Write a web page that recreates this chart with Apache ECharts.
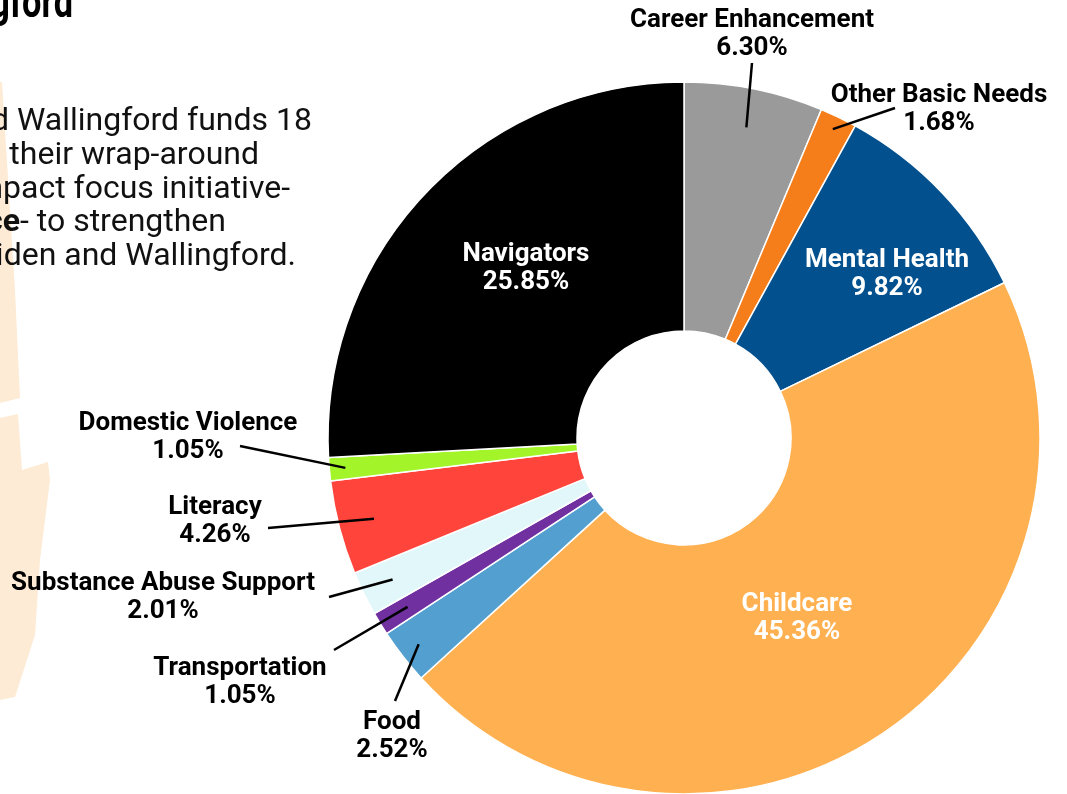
<!DOCTYPE html>
<html>
<head>
<meta charset="utf-8">
<script src="https://cdn.jsdelivr.net/npm/echarts@6/dist/echarts.min.js"></script>
<style>
html,body{margin:0;padding:0;background:#fff;}
#c{width:1067px;height:794px;}
</style>
</head>
<body>
<div id="c"></div>
<script>
// ---- data ----
const categories = ['Career Enhancement','Other Basic Needs','Mental Health','Childcare','Food','Transportation','Substance Abuse Support','Literacy','Domestic Violence','Navigators'];
const shares = [6.30, 1.68, 9.82, 45.36, 2.52, 1.05, 2.01, 4.26, 1.05, 25.85];
const sliceColors = ['#9a9a9a','#f57e1a','#02508e','#ffb152','#529fd0','#7030a0','#e2f7f9','#ff453b','#a3f52a','#000000'];
const insideLabels = ['Mental Health','Childcare','Navigators'];
const titleText = 'Meriden and Wallingford';
const paragraphLines = [
  'and Wallingford funds 18',
  'and their wrap-around',
  'impact focus initiative-',
  '{b|ce}- to strengthen',
  'Meriden and Wallingford.'
];

// ---- layout ----
const CX = 684, CY = 438, R0 = 107, R = 356;
const labelPos = {
  'Career Enhancement': [752, 34],
  'Other Basic Needs': [939, 109],
  'Mental Health': [887, 274],
  'Childcare': [797, 618],
  'Food': [392, 736],
  'Transportation': [240, 682],
  'Substance Abuse Support': [163, 597],
  'Literacy': [215, 521],
  'Domestic Violence': [188, 437],
  'Navigators': [526, 268]
};
const lineEnd = {
  'Career Enhancement': [752, 63],
  'Other Basic Needs': [895, 108],
  'Food': [395, 701],
  'Transportation': [334, 650],
  'Substance Abuse Support': [329, 597],
  'Literacy': [268, 528],
  'Domestic Violence': [240, 446]
};
const lineStartFrac = {
  'Career Enhancement': 0.89,
  'Other Basic Needs': 0.963,
  'Food': 0.944,
  'Transportation': 0.91,
  'Substance Abuse Support': 0.91,
  'Literacy': 0.90,
  'Domestic Violence': 0.955
};
const paraRight = [312, 259, 290, 226, 296];
const paraY = [122, 156, 190, 223, 257];

const total = shares.reduce((a, b) => a + b, 0);
function midAngle(i) {
  let s = 0;
  for (let k = 0; k < i; k++) s += shares[k];
  return (s + shares[i] / 2) / total * Math.PI * 2;
}

const sliceData = categories.map((name, i) => ({
  name: name,
  value: shares[i],
  itemStyle: { color: sliceColors[i] }
}));

const labelData = categories.map((name, i) => {
  const inside = insideLabels.indexOf(name) >= 0;
  return {
    name: name,
    value: shares[i],
    label: {
      position: inside ? 'inside' : 'outside',
      color: inside ? '#ffffff' : '#000000'
    },
    labelLine: { show: !inside }
  };
});

const chart = echarts.init(document.getElementById('c'), null, { renderer: 'canvas' });

const graphics = [
  { type: 'polygon', z: 0, shape: { points: [[0,82],[2,82],[15,290],[20,398],[0,403]] }, style: { fill: '#fdebd5' } },
  { type: 'polygon', z: 0, shape: { points: [[0,418],[18,414],[22,470],[48,462],[50,480],[40,560],[35,635],[15,697],[0,700]] }, style: { fill: '#fdebd5' } },
  { type: 'text', z: 5, x: 73, y: 6, scaleX: 0.78, scaleY: 1,
    style: { text: titleText, x: 0, y: 0, font: 'bold 44px Roboto', fill: '#000', align: 'right', verticalAlign: 'middle', textAlign: 'right', textVerticalAlign: 'middle' } }
];
paragraphLines.forEach((t, i) => {
  graphics.push({
    type: 'text', z: 5,
    style: {
      text: t, x: paraRight[i], y: paraY[i],
      font: '32px Roboto', fill: '#111',
      align: 'right', verticalAlign: 'middle', textAlign: 'right', textVerticalAlign: 'middle',
      rich: { b: { fontWeight: 'bold', fontSize: 32, fontFamily: 'Roboto', fill: '#111' } }
    }
  });
});

chart.setOption({
  animation: false,
  backgroundColor: '#ffffff',
  graphic: graphics,
  series: [{
    type: 'pie',
    z: 2,
    center: [CX, CY],
    radius: [R0, R],
    startAngle: 90,
    clockwise: true,
    silent: true,
    emphasis: { disabled: true },
    itemStyle: { borderColor: '#ffffff', borderWidth: 1.5 },
    label: { show: false },
    labelLine: { show: false },
    data: sliceData
  }, {
    type: 'pie',
    z: 4,
    center: [CX, CY],
    radius: [R0, R],
    startAngle: 90,
    clockwise: true,
    silent: true,
    avoidLabelOverlap: false,
    emphasis: { disabled: true },
    itemStyle: { color: 'rgba(0,0,0,0)', borderWidth: 0 },
    label: {
      show: true,
      fontFamily: 'Roboto',
      fontWeight: 'bold',
      fontSize: 26,
      lineHeight: 28,
      align: 'center',
      formatter: p => p.name + '\n' + p.value.toFixed(2) + '%'
    },
    labelLine: {
      show: true,
      length: 20,
      length2: 0,
      lineStyle: { color: '#000000', width: 2.5 }
    },
    labelLayout: function (params) {
      const name = categories[params.dataIndex];
      const pos = labelPos[name];
      const res = { x: pos[0], y: pos[1], align: 'center', verticalAlign: 'middle' };
      if (lineEnd[name]) {
        const a = midAngle(params.dataIndex);
        const r = R * lineStartFrac[name];
        const sx = CX + r * Math.sin(a);
        const sy = CY - r * Math.cos(a);
        const e = lineEnd[name];
        res.labelLinePoints = [[sx, sy], [e[0], e[1]], [e[0], e[1]]];
      }
      return res;
    },
    data: labelData
  }]
});
</script>
</body>
</html>
